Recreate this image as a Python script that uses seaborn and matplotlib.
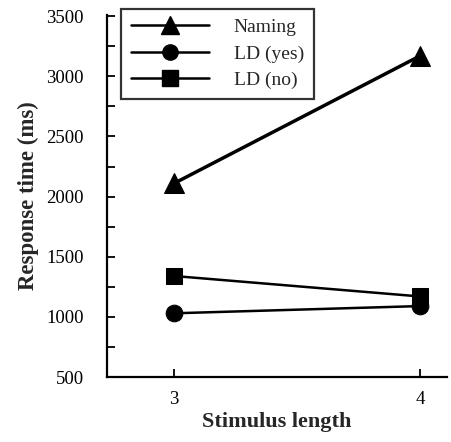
import matplotlib
matplotlib.use("Agg")
import matplotlib.pyplot as plt
import seaborn as sns
import pandas as pd
from matplotlib.lines import Line2D

lengths = [3, 4]
naming = [2110, 3170]
ld_yes = [1030, 1090]
ld_no = [1340, 1170]
series_names = ["Naming", "LD (yes)", "LD (no)"]
yticks_major = [500, 1000, 1500, 2000, 2500, 3000, 3500]

rows = []
for name, vals in zip(series_names, [naming, ld_yes, ld_no]):
    for x, v in zip(lengths, vals):
        rows.append({"Stimulus length": x, "Response time (ms)": v, "cond": name})
df = pd.DataFrame(rows)

sns.set_style("ticks")
plt.rcParams["font.family"] = ["Liberation Serif", "DejaVu Serif"]

fig = plt.figure(figsize=(4.52, 4.42), dpi=100)
ax = fig.add_axes([0.237, 0.147, 0.752, 0.819])

markers = {"Naming": "^", "LD (yes)": "o", "LD (no)": "s"}
msizes = {"Naming": 14, "LD (yes)": 12, "LD (no)": 12}
sns.lineplot(data=df, x="Stimulus length", y="Response time (ms)", hue="cond",
             style="cond", markers=markers, dashes=False,
             palette=["black"] * 3, markersize=12, linewidth=1.8,
             markeredgecolor="black", ax=ax, legend=False)
for line, name in zip(ax.lines, series_names):
    line.set_markersize(msizes[name])
    if name == "Naming":
        line.set_linewidth(2.5)

ax.set_xlim(2.728, 4.11)
ax.set_ylim(500, 3510)
ax.set_xticks(lengths)
ax.set_yticks(yticks_major)
ax.set_yticks([750, 1250, 1750, 2250, 2750, 3250], minor=True)
ax.tick_params(axis="both", which="both", direction="in", length=6, width=1.3,
               labelsize=13.5, colors="black")
ax.tick_params(axis="y", pad=17)
ax.tick_params(axis="x", pad=10)
for s in ["top", "right"]:
    ax.spines[s].set_visible(False)
for s in ["left", "bottom"]:
    ax.spines[s].set_linewidth(1.6)
    ax.spines[s].set_color("black")

ax.set_xlabel("Stimulus length", fontsize=16, fontweight="bold", labelpad=3)
ax.set_ylabel("Response time (ms)", fontsize=16.5, fontweight="bold", labelpad=5)

handles = [Line2D([], [], color="black", marker=markers[n], markersize=msizes[n] - 1,
                  linewidth=1.8) for n in series_names]
leg = ax.legend(handles, series_names, loc="upper left", bbox_to_anchor=(0.041, 1.017),
                frameon=True, fancybox=False, edgecolor="black", fontsize=14,
                handlelength=4.0, handletextpad=1.3, borderpad=0.5, labelspacing=0.45,
                borderaxespad=0)
leg.get_frame().set_linewidth(1.6)

fig.savefig("out.png", dpi=100)
